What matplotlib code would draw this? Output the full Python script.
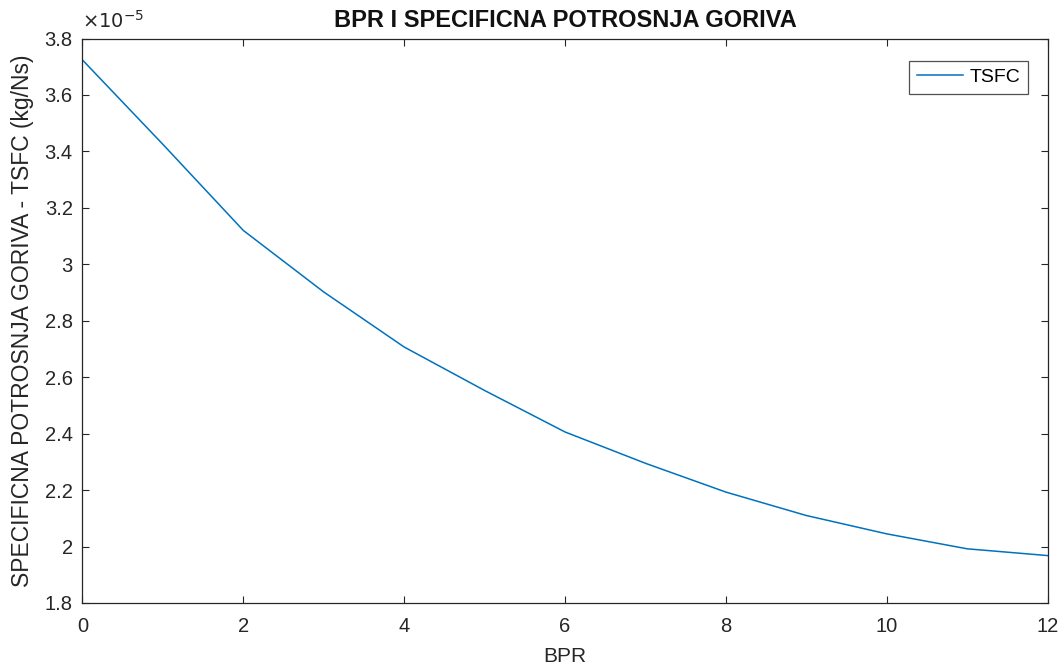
import matplotlib
matplotlib.use("Agg")
import matplotlib.pyplot as plt
from matplotlib.ticker import FuncFormatter, MultipleLocator

plt.rcParams['font.family'] = ['Liberation Sans', 'DejaVu Sans']

bpr = [0, 1, 2, 3, 4, 5, 6, 7, 8, 9, 10, 11, 12]
tsfc_e5 = [3.724, 3.425, 3.12, 2.902, 2.707, 2.553, 2.406, 2.295, 2.193, 2.11, 2.045, 1.992, 1.968]
scale = 1e-5
tsfc = [v * scale for v in tsfc_e5]

title = "BPR I SPECIFICNA POTROSNJA GORIVA"
xlabel = "BPR"
ylabel = "SPECIFICNA POTROSNJA GORIVA - TSFC (kg/Ns)"
series_name = "TSFC"

fig = plt.figure(figsize=(10.64, 6.72), dpi=100)
ax = fig.add_axes([0.0775, 0.1027, 0.907, 0.840])
ax.plot(bpr, tsfc, color='#0072BD', lw=1.1, label=series_name)

ax.set_xlim(0, 12)
ax.set_ylim(1.8e-5, 3.8e-5)
ax.xaxis.set_major_locator(MultipleLocator(2))
ax.yaxis.set_major_locator(MultipleLocator(0.2e-5))
ax.yaxis.set_major_formatter(FuncFormatter(lambda v, p: f"{round(v/scale, 1):g}"))

tc = '#262626'
ax.tick_params(direction='in', length=5, width=0.8, top=True, right=True,
               labelsize=14.5, colors=tc)
ax.tick_params(axis='x', pad=10)
ax.tick_params(axis='y', pad=7)
for s in ax.spines.values():
    s.set_color(tc)
    s.set_linewidth(0.9)

ax.set_title(title, fontsize=17, fontweight='bold', color='#111111', pad=8)
ax.set_xlabel(xlabel, fontsize=15, color=tc, labelpad=8)
ax.set_ylabel(ylabel, fontsize=16.5, color=tc, labelpad=8)
ax.text(0.0, 1.012, r'$\times10^{-5}$', transform=ax.transAxes, fontsize=14,
        color=tc, ha='left', va='bottom')

leg = ax.legend(loc='upper right', bbox_to_anchor=(0.9795, 0.961), fontsize=14,
                frameon=True, fancybox=False, handlelength=2.4, handletextpad=0.3,
                borderpad=0.4, borderaxespad=0.0)
leg.get_frame().set_edgecolor(tc)
leg.get_frame().set_linewidth(0.9)

fig.savefig("out.png", dpi=100, facecolor='white')
